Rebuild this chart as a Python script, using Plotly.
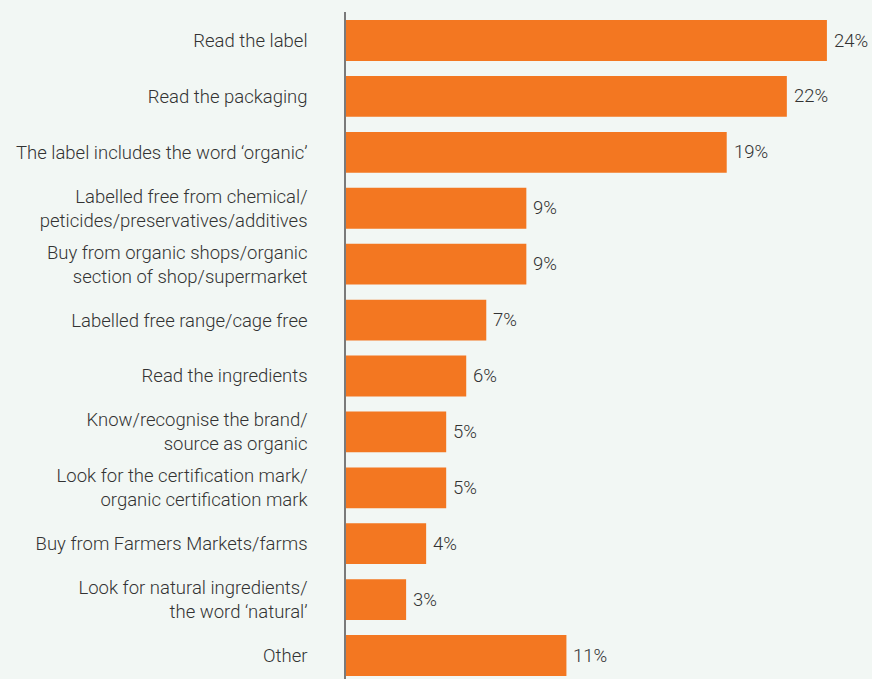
import plotly.graph_objects as go

categories = [
    "Read the label",
    "Read the packaging",
    "The label includes the word ‘organic’",
    "Labelled free from chemical/<br>peticides/preservatives/additives",
    "Buy from organic shops/organic<br>section of shop/supermarket",
    "Labelled free range/cage free",
    "Read the ingredients",
    "Know/recognise the brand/<br>source as organic",
    "Look for the certification mark/<br>organic certification mark",
    "Buy from Farmers Markets/farms",
    "Look for natural ingredients/<br>the word ‘natural’",
    "Other",
]
values = [24, 22, 19, 9, 9, 7, 6, 5, 5, 4, 3, 11]
value_labels = [f"{v}%" for v in values]

BG = "#F2F7F4"
BAR = "#F37721"
TXT = "#333333"
FONT = "Roboto"
FS = 18.5
FW = 300

fig = go.Figure(
    go.Bar(
        x=values,
        y=categories,
        orientation="h",
        marker=dict(color=BAR, line=dict(width=0)),
        width=0.73,
        cliponaxis=False,
        hoverinfo="skip",
    )
)

for v, c, t in zip(values, categories, value_labels):
    fig.add_annotation(
        x=v, y=c, text=t, xanchor="left", yanchor="middle",
        xshift=5, showarrow=False,
        font=dict(size=FS, color=TXT, family=FONT, weight=FW),
    )

fig.update_layout(
    width=872,
    height=679,
    margin=dict(l=346, r=0, t=12, b=0),
    paper_bgcolor=BG,
    plot_bgcolor=BG,
    font=dict(family=FONT, size=FS, color=TXT, weight=FW),
    showlegend=False,
    xaxis=dict(
        range=[0, 26.25],
        showgrid=False,
        zeroline=False,
        showticklabels=False,
        showline=False,
        fixedrange=True,
    ),
    yaxis=dict(
        type="category",
        range=[11.42, -0.51],
        showgrid=False,
        zeroline=False,
        showline=True,
        linecolor="#7a7a7a",
        linewidth=1.5,
        ticks="",
        ticklabelstandoff=33,
        tickfont=dict(size=FS, color=TXT, family=FONT, weight=FW),
        fixedrange=True,
    ),
)

fig.write_html(
    "out.html",
    config={"displayModeBar": False},
    post_script="document.body.style.margin='0';document.body.style.background='%s';" % BG,
)
